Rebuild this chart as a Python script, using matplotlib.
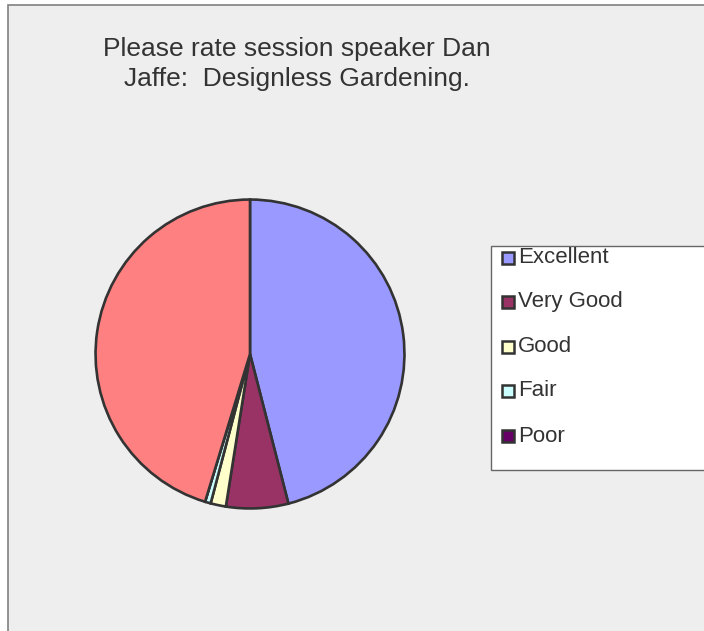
import matplotlib
matplotlib.use("Agg")
from matplotlib import pyplot as plt
from matplotlib.patches import Rectangle

plt.rcParams['font.family'] = ['Liberation Sans', 'DejaVu Sans']

# share of responses (%); last slice has no legend entry
labels = ['Excellent', 'Very Good', 'Good', 'Fair', 'Poor']
values = [46.0, 6.5, 1.6, 0.6, 0.0]
other_value = 45.3
colors = ['#9999FF', '#993366', '#FFFFCC', '#CCFFFF', '#660066']
other_color = '#FF8080'

title = "Please rate session speaker Dan\nJaffe:  Designless Gardening."

W, H = 704, 631
fig = plt.figure(figsize=(W / 100, H / 100), dpi=100, facecolor='white')

def px(x, y):
    # pixel (from top-left) to figure fraction
    return x / W, 1 - y / H

# chart area background
x0, y0 = px(8, 5)
fig.patches.append(Rectangle((x0, -0.01), 1.02 - x0, y0 + 0.01, transform=fig.transFigure,
                             facecolor='#EEEEEE', edgecolor='#808080', linewidth=1.2, zorder=-10))

# pie axes
cx, cy, r = 250, 354, 156
left, bottom = px(cx - r, cy + r)
ax = fig.add_axes([left, bottom, 2 * r / W, 2 * r / H])
ax.set_zorder(5)
ax.pie(values + [other_value], colors=colors + [other_color], startangle=90, counterclock=False,
       wedgeprops=dict(edgecolor='#333333', linewidth=1.9))
ax.set_xlim(-1.01, 1.01)
ax.set_ylim(-1.01, 1.01)
ax.axis('off')

tx, ty = px(297, 64)
fig.text(tx, ty, title, ha='center', va='center', multialignment='center',
         fontsize=19, color='#333333', linespacing=1.3)

# legend
lx, ly = px(491, 470)
lw = (W + 10 - 491) / W
lh = (470 - 246) / H
fig.patches.append(Rectangle((lx, ly), lw, lh, transform=fig.transFigure,
                             facecolor='white', edgecolor='#666666', linewidth=1.0))
ys = [258, 302, 347, 391, 436]
for lab, col, yy in zip(labels, colors, ys):
    sx, sy = px(502, yy + 6)
    fig.patches.append(Rectangle((sx, sy), 12 / W, 12 / H, transform=fig.transFigure,
                                 facecolor=col, edgecolor='#333333', linewidth=1.8))
    tx, ty = px(518, yy)
    fig.text(tx, ty, lab, ha='left', va='center', fontsize=16, color='#333333')

fig.savefig('out.png', dpi=100, facecolor=fig.get_facecolor())
